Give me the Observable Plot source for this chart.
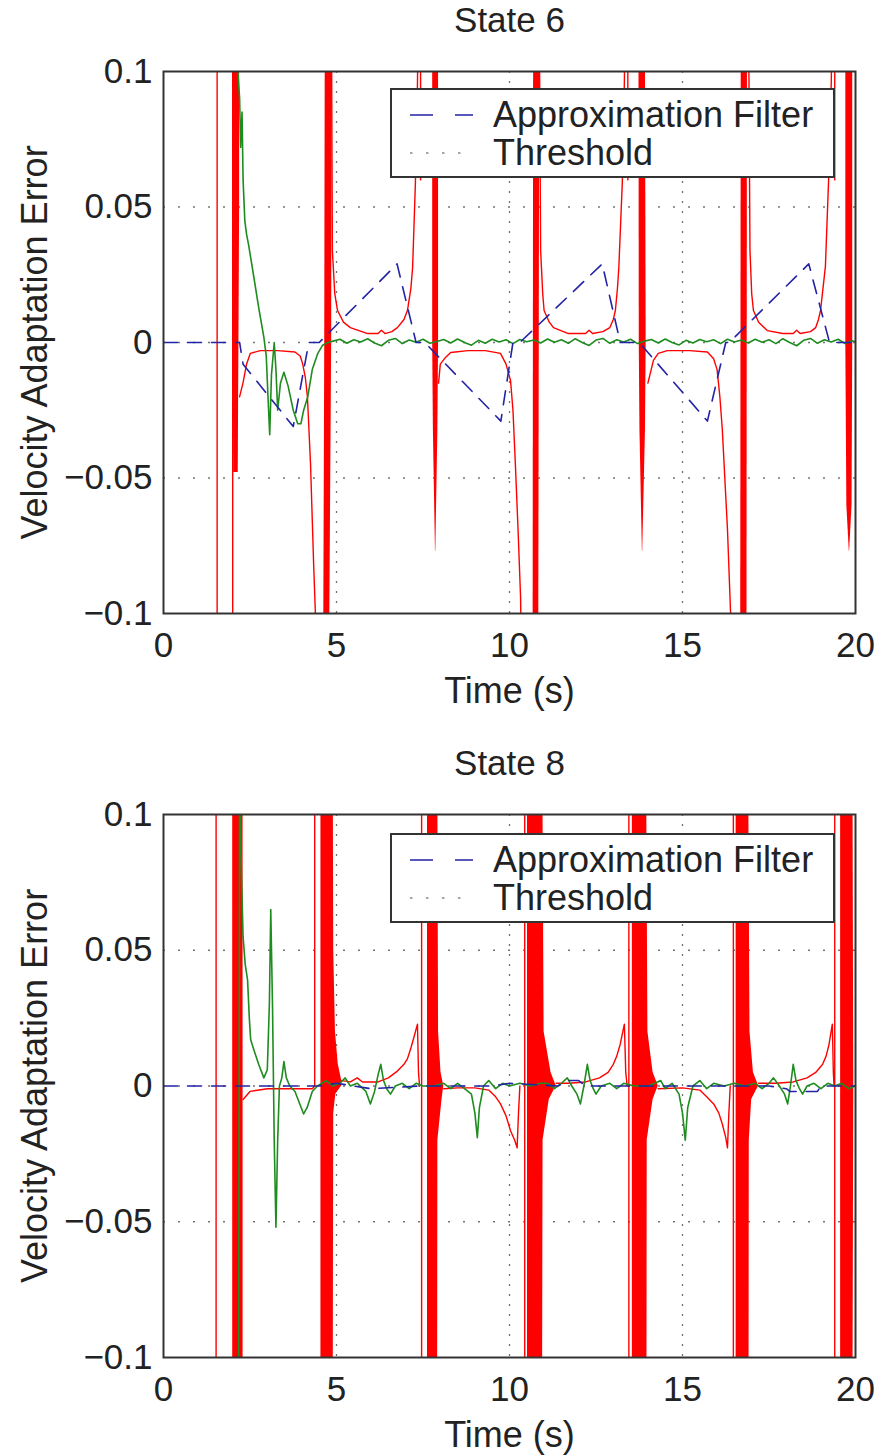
<!DOCTYPE html>
<html><head><meta charset="utf-8">
<script src="https://cdn.jsdelivr.net/npm/d3@7"></script>
<script src="https://cdn.jsdelivr.net/npm/@observablehq/plot@0.6"></script>
<style>
body{margin:0;background:#fff;font-family:"Liberation Sans",Arial,sans-serif;color:#222}
.panel{position:relative;width:881px}
.legend{position:absolute;left:390px;width:445px;height:90px;border:2px solid #333;background:#fff;box-sizing:border-box}
.legend span{position:absolute;left:101px;font-size:36px;line-height:36px;white-space:nowrap;color:#222}
.legend svg{position:absolute;left:0;top:0}
</style>
</head><body>
<div id="root"></div>
<script>
// ---- axes ----
const xTicks = [0, 5, 10, 15, 20];
const xTickLabels = ["0", "5", "10", "15", "20"];
const yTicks = [-0.1, -0.05, 0, 0.05, 0.1];
const yTickLabels = ["\u22120.1", "\u22120.05", "0", "0.05", "0.1"];
const gridXVals = [5, 10, 15];
const gridYVals = [-0.05, 0, 0.05];
const titles = ["State 6", "State 8"];
const xLabel = "Time (s)";
const yLabel = "Velocity Adaptation Error";
const legendLabels = ["Approximation Filter", "Threshold"];

// ---- State 6 ----
const s6Red = [
  [1.55,0.15],[1.55,-0.15],null,
  [2.0,0.15],[2.0,-0.15],null,
  [2.2,-0.02],[2.3,-0.0148],[2.4,-0.008],[2.51,-0.004],[2.8,-0.003],[3.3,-0.003],[3.8,-0.0035],[3.95,-0.005],[4.02,-0.0078],[4.1,-0.013],[4.16,-0.02],[4.25,-0.045],[4.34,-0.082],[4.39,-0.1],[4.42,-0.12],null,
  [4.85,0.12],[4.86,0.1],[4.88,0.034],[4.95,0.018],[5.03,0.0118],[5.2,0.0075],[5.4,0.0055],[5.9,0.0033],[6.2,0.0033],[6.3,0.0045],[6.4,0.0033],[6.6,0.004],[6.76,0.0055],[6.95,0.0085],[7.05,0.0118],[7.15,0.02],[7.2,0.0277],[7.28,0.0587],[7.34,0.0956],[7.36,0.12],null,
  [7.43,0.12],[7.43,0.06],null,
  [7.95,-0.015],[8.0,-0.008],[8.15,-0.0055],[8.3,-0.0037],[8.8,-0.003],[9.3,-0.003],[9.74,-0.004],[9.9,-0.008],[10.03,-0.014],[10.1,-0.025],[10.17,-0.045],[10.25,-0.07],[10.32,-0.094],[10.35,-0.12],null,
  [10.85,0.12],[10.87,0.1],[10.9,0.034],[10.96,0.018],[11.0,0.0118],[11.15,0.0075],[11.27,0.0055],[11.7,0.0033],[12.2,0.0033],[12.3,0.0045],[12.4,0.0033],[12.7,0.004],[12.9,0.0055],[13.0,0.0085],[13.06,0.0118],[13.12,0.02],[13.16,0.0277],[13.26,0.059],[13.32,0.096],[13.34,0.12],null,
  [13.42,0.12],[13.42,0.06],null,
  [14.0,-0.015],[14.16,-0.0066],[14.3,-0.004],[14.56,-0.003],[15.2,-0.003],[15.72,-0.0035],[15.9,-0.006],[16.0,-0.01],[16.08,-0.02],[16.15,-0.032],[16.3,-0.069],[16.39,-0.1],[16.42,-0.12],null,
  [16.9,0.12],[16.92,0.1],[16.95,0.034],[17.0,0.018],[17.05,0.0118],[17.2,0.0075],[17.45,0.0044],[17.9,0.0033],[18.2,0.0033],[18.3,0.0045],[18.4,0.0033],[18.7,0.004],[18.85,0.0055],[18.93,0.0085],[18.99,0.0118],[19.06,0.02],[19.13,0.028],[19.22,0.059],[19.3,0.096],[19.32,0.12],null,
  [19.4,0.12],[19.4,0.06]
];
// band id, y, x1, x2 (dense oscillation regions)
const s6Bands = [
  [1,0.15,2.0,2.2],[1,0.05,2.0,2.2],[1,-0.048,2.03,2.16],
  [2,0.15,4.68,4.88],[2,0.0,4.66,4.86],[2,-0.15,4.62,4.78],
  [3,0.15,7.78,7.95],[3,0.0,7.78,7.95],[3,-0.032,7.8,7.93],[3,-0.077,7.86,7.87],
  [4,0.15,10.7,10.88],[4,-0.15,10.68,10.84],
  [5,0.15,13.74,13.92],[5,0.0,13.75,13.95],[5,-0.032,13.77,13.93],[5,-0.077,13.84,13.85],
  [6,0.15,16.7,16.88],[6,-0.15,16.68,16.86],
  [7,0.15,19.72,19.92],[7,0.0,19.72,19.92],[7,-0.06,19.75,19.9],[7,-0.077,19.82,19.83]
];
const s6Green = [
  [2.08,0.15],[2.15,0.1],[2.2,0.09],[2.23,0.072],[2.27,0.085],[2.3,0.06],[2.35,0.045],[2.4,0.04],[2.46,0.036],[2.6,0.025],[2.75,0.013],[2.9,0.002],[2.97,-0.005],[3.02,-0.02],[3.07,-0.034],[3.12,-0.012],[3.2,0.0],[3.25,-0.01],[3.3,-0.025],[3.38,-0.015],[3.48,-0.011],[3.6,-0.016],[3.75,-0.025],[3.88,-0.03],[3.97,-0.03],[4.05,-0.025],[4.17,-0.02],[4.3,-0.01],[4.46,-0.004],[4.6,-0.001],[4.75,0.0],
  [4.9,0.0005],[5.1,0.0012],[5.3,-0.0003],[5.5,0.001],[5.7,0.0002],[5.9,0.0014],[6.1,-0.0002],[6.3,-0.0012],[6.5,0.0008],[6.7,0.0015],[6.9,-0.0004],[7.1,0.0009],[7.3,0.0001],[7.5,0.0012],[7.7,-0.0003],[7.9,0.0004],[8.1,0.0011],[8.3,-0.0002],[8.5,0.0013],[8.7,0.0],[8.9,-0.001],[9.1,0.0008],[9.3,-0.0003],[9.5,0.0012],[9.7,0.0002],[9.9,0.001],[10.1,-0.0004],[10.3,0.0011],[10.5,0.0003],[10.7,0.0009],[10.9,-0.0002],[11.1,0.0013],[11.3,0.0001],[11.5,0.001],[11.7,-0.0003],[11.9,0.0014],[12.1,0.0],[12.3,-0.0011],[12.5,0.0009],[12.7,0.0015],[12.9,-0.0003],[13.1,0.001],[13.3,0.0002],[13.5,0.0012],[13.7,-0.0004],[13.9,0.0005],[14.1,0.0011],[14.3,-0.0002],[14.5,0.0013],[14.7,0.0],[14.9,-0.0009],[15.1,0.0008],[15.3,-0.0002],[15.5,0.0011],[15.7,0.0003],[15.9,0.001],[16.1,-0.0004],[16.3,0.0012],[16.5,0.0002],[16.7,0.0009],[16.9,-0.0002],[17.1,0.0012],[17.3,0.0001],[17.5,0.001],[17.7,-0.0004],[17.9,0.0014],[18.1,0.0],[18.3,-0.0012],[18.5,0.0008],[18.7,0.0015],[18.9,-0.0003],[19.1,0.001],[19.3,0.0002],[19.5,0.0012],[19.7,-0.0004],[19.9,0.0006],[20,0.0003]
];
const s6Blue = [
  [0,0],[2.2,0],[2.3,-0.008],[3.75,-0.031],[4.2,0],[4.5,0],[6.75,0.029],[7.3,0],[7.55,0],[9.75,-0.029],[10.1,0],[10.3,0],[12.68,0.029],[13.2,0],[13.75,0],[15.72,-0.029],[16.25,0],[16.35,0],[18.65,0.029],[19.25,0],[20,0]
];

// ---- State 8 ----
const s8Red = [
  [1.52,0.15],[1.52,-0.15],null,
  [2.3,-0.005],[2.5,-0.002],[3.0,-0.001],[4.0,-0.001],[4.3,-0.001],[4.37,0.0],[4.37,0.15],null,
  [5.15,0.002],[5.4,0.0015],[5.6,0.003],[5.75,0.0015],[6.2,0.0015],[6.5,0.003],[6.76,0.0055],[6.95,0.008],[7.05,0.01],[7.15,0.014],[7.23,0.0176],[7.34,0.0228],[7.37,0.005],[7.4,0.0],null,
  [7.46,0.15],[7.46,-0.15],null,
  [8.1,-0.001],[8.5,-0.0007],[9.0,-0.0007],[9.4,-0.0015],[9.6,-0.004],[9.74,-0.0066],[9.9,-0.011],[10.03,-0.0165],[10.15,-0.02],[10.22,-0.0228],[10.26,-0.01],[10.3,0.0],null,
  [10.44,0.15],[10.44,-0.15],null,
  [11.35,0.001],[11.7,0.001],[12.2,0.0015],[12.6,0.003],[12.85,0.005],[13.0,0.008],[13.1,0.011],[13.2,0.0154],[13.32,0.0228],[13.36,0.005],[13.4,0.0],null,
  [13.45,0.15],[13.45,-0.15],null,
  [14.3,-0.001],[15.0,-0.0007],[15.5,-0.0015],[15.7,-0.004],[15.9,-0.0066],[16.05,-0.01],[16.15,-0.014],[16.25,-0.019],[16.3,-0.0228],[16.34,-0.01],[16.38,0.0],null,
  [16.47,0.15],[16.47,-0.15],null,
  [17.2,0.001],[17.7,0.001],[18.2,0.0015],[18.6,0.003],[18.85,0.005],[19.05,0.008],[19.15,0.011],[19.23,0.015],[19.33,0.0228],[19.36,0.005],[19.38,0.0],null,
  [19.4,0.15],[19.4,-0.15]
];
const s8Bands = [
  [1,0.15,2.0,2.3],[1,-0.15,2.0,2.3],
  [2,0.15,4.55,4.9],[2,0.05,4.55,4.92],[2,0.02,4.55,4.97],[2,0.008,4.55,5.05],[2,0.002,4.55,5.15],[2,0.0,4.55,5.15],[2,-0.003,4.55,4.98],[2,-0.01,4.55,4.92],[2,-0.15,4.55,4.9],
  [3,0.15,7.63,7.92],[3,0.02,7.63,7.95],[3,0.005,7.63,8.02],[3,0.0,7.63,8.1],[3,-0.005,7.63,8.05],[3,-0.02,7.63,7.93],[3,-0.15,7.63,7.92],
  [4,0.15,10.52,10.95],[4,0.02,10.52,11.0],[4,0.005,10.52,11.2],[4,0.0,10.52,11.35],[4,-0.005,10.52,11.15],[4,-0.02,10.52,10.97],[4,-0.15,10.52,10.95],
  [5,0.15,13.55,13.95],[5,0.02,13.55,14.0],[5,0.005,13.55,14.15],[5,0.0,13.55,14.3],[5,-0.005,13.55,14.15],[5,-0.02,13.55,13.98],[5,-0.15,13.55,13.97],
  [6,0.15,16.55,16.9],[6,0.02,16.55,16.95],[6,0.005,16.55,17.05],[6,0.0,16.55,17.2],[6,-0.005,16.55,17.0],[6,-0.02,16.55,16.93],[6,-0.15,16.55,16.92],
  [7,0.15,19.57,19.92],[7,0.0,19.57,19.95],[7,-0.15,19.57,19.92]
];
const s8Green = [
  [2.17,-0.12],[2.2,0.12],[2.25,0.08],[2.3,0.055],[2.36,0.045],[2.43,0.039],[2.48,0.025],[2.52,0.017],[2.62,0.013],[2.75,0.008],[2.9,0.003],[3.0,0.006],[3.06,0.03],[3.1,0.065],[3.15,0.03],[3.2,-0.02],[3.25,-0.052],[3.3,-0.02],[3.35,0.0],[3.42,0.003],[3.48,0.009],[3.55,0.003],[3.65,0.0],[3.8,-0.002],[3.95,-0.007],[4.05,-0.0103],[4.15,-0.008],[4.3,-0.002],[4.45,0.0],[4.7,0.002],[4.9,0.0],[5.1,0.001],[5.25,0.003],[5.4,0.0],[5.6,0.001],[5.85,-0.002],[5.98,-0.0066],[6.1,-0.002],[6.2,0.004],[6.28,0.008],[6.36,0.002],[6.45,-0.001],[6.56,-0.003],[6.7,0.0],[6.9,0.001],[7.1,-0.001],[7.3,0.001],[7.5,0.0],[7.8,0.0],[8.1,0.001],[8.3,-0.001],[8.5,0.001],[8.7,-0.001],[8.9,-0.003],[9.0,-0.01],[9.07,-0.019],[9.13,-0.008],[9.25,0.0],[9.4,0.002],[9.6,-0.001],[9.8,0.001],[10.0,0.0],[10.3,0.001],[10.6,0.0],[10.9,0.001],[11.1,0.001],[11.3,-0.001],[11.5,0.001],[11.67,0.003],[11.8,0.0],[11.95,-0.003],[12.05,-0.0066],[12.15,0.0],[12.25,0.008],[12.33,0.002],[12.42,-0.001],[12.5,-0.003],[12.65,0.0],[12.9,0.001],[13.1,-0.001],[13.3,0.001],[13.6,0.0],[14.0,0.0],[14.2,0.001],[14.37,0.002],[14.5,-0.001],[14.7,0.001],[14.9,-0.003],[15.0,-0.01],[15.08,-0.02],[15.15,-0.008],[15.3,0.0],[15.5,0.002],[15.7,-0.001],[15.9,0.001],[16.2,0.0],[16.5,0.001],[16.8,0.0],[17.1,0.001],[17.3,-0.001],[17.5,0.001],[17.63,0.003],[17.8,0.0],[17.95,-0.003],[18.04,-0.0066],[18.12,0.0],[18.2,0.008],[18.28,0.002],[18.38,-0.001],[18.47,-0.003],[18.6,0.0],[18.8,0.001],[19.0,-0.001],[19.2,0.001],[19.4,0.0],[19.6,0.001],[19.8,-0.001],[20,0.0]
];
const s8Blue = [
  [0,0],[2.2,0],[4.5,0],[5.0,0.001],[6.0,-0.001],[7.4,0],[9.5,0],[10.0,0.001],[11.4,0],[11.7,0.002],[12.0,0.002],[12.2,0],[15.0,0],[17.5,0],[18.0,-0.001],[18.1,-0.002],[18.9,-0.002],[19.0,0],[20,0]
];

const RED = "#ff0000", GREEN = "#1e8c1e", BLUE = "#2323a6";
const toXY = arr => arr.map(d => d ? {t: d[0], v: d[1]} : {t: NaN, v: NaN});

function makePanel(title, red, bands, green, blue, height, marginBottom, legendTop) {
  const div = document.createElement("div");
  div.className = "panel";
  div.style.height = height + "px";
  const chart = Plot.plot({
    width: 881, height,
    marginLeft: 163, marginRight: 26, marginTop: 71, marginBottom,
    style: {fontFamily: "Liberation Sans, Arial, sans-serif", fontSize: "35px", color: "#222", background: "white", overflow: "visible"},
    x: {domain: [0, 20], ticks: xTicks, tickFormat: d => xTickLabels[xTicks.indexOf(d)], tickSize: 0, tickPadding: 19, label: null},
    y: {domain: [-0.1, 0.1], ticks: yTicks, tickFormat: d => yTickLabels[yTicks.findIndex(t => Math.abs(t - d) < 1e-9)], tickSize: 0, tickPadding: 11, label: null},
    marks: [
      Plot.gridX(gridXVals, {stroke: "#000", strokeOpacity: 0.55, strokeWidth: 1.3, strokeDasharray: "2,8"}),
      Plot.gridY(gridYVals, {stroke: "#000", strokeOpacity: 0.55, strokeWidth: 1.3, strokeDasharray: "2,13"}),
      Plot.areaX(bands, {y: d => d[1], x1: d => d[2], x2: d => d[3], z: d => d[0], fill: RED, clip: true}),
      Plot.line(toXY(red), {x: "t", y: "v", stroke: RED, strokeWidth: 1.4, clip: true}),
      Plot.line(toXY(green), {x: "t", y: "v", stroke: GREEN, strokeWidth: 1.6, clip: true}),
      Plot.line(toXY(blue), {x: "t", y: "v", stroke: BLUE, strokeWidth: 1.6, strokeDasharray: "14,10", clip: true}),
      Plot.frame({stroke: "#333", strokeWidth: 2}),
      Plot.text([title], {text: d => d, frameAnchor: "top", dy: -51, lineAnchor: "middle", fontSize: 35, fill: "#222"}),
      Plot.text([xLabel], {text: d => d, frameAnchor: "bottom", dy: 78, lineAnchor: "middle", fontSize: 36, fill: "#222"}),
      Plot.text([yLabel], {text: d => d, frameAnchor: "left", dx: -128, rotate: -90, textAnchor: "middle", lineAnchor: "middle", fontSize: 36, fill: "#222"})
    ]
  });
  div.appendChild(chart);
  const lg = document.createElement("div");
  lg.className = "legend";
  lg.style.top = legendTop + "px";
  lg.innerHTML =
    `<svg width="100" height="86"><line x1="18" x2="81" y1="25" y2="25" stroke="${BLUE}" stroke-width="1.6" stroke-dasharray="23,22"/>` +
    `<line x1="18" x2="81" y1="63" y2="63" stroke="#888" stroke-width="1.6" stroke-dasharray="2.5,13.5"/></svg>` +
    `<span style="top:7px">${legendLabels[0]}</span><span style="top:45px">${legendLabels[1]}</span>`;
  div.appendChild(lg);
  return div;
}

const root = document.getElementById("root");
root.appendChild(makePanel(titles[0], s6Red, s6Bands, s6Green, s6Blue, 743, 130, 88));
root.appendChild(makePanel(titles[1], s8Red, s8Bands, s8Green, s8Blue, 713, 99, 90));
</script>
</body></html>
